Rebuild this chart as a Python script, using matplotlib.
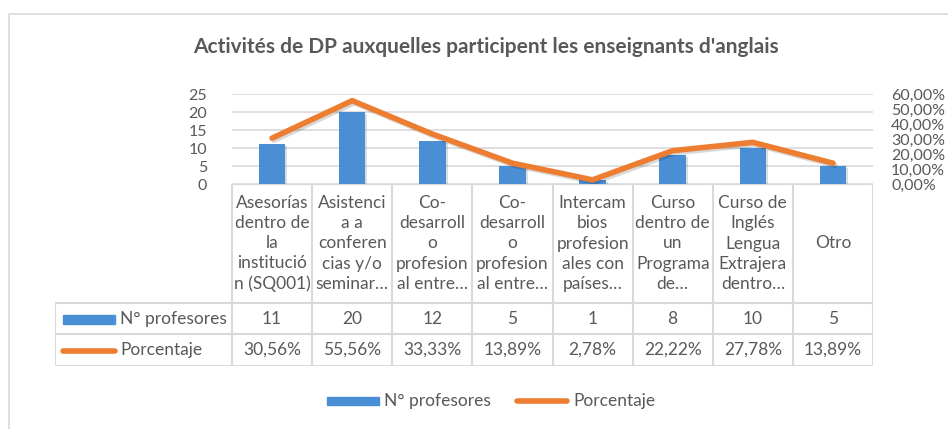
import numpy as np
import matplotlib as mpl
mpl.use('Agg')
import matplotlib.pyplot as plt
from matplotlib.patches import Rectangle
from matplotlib.lines import Line2D
import matplotlib.patheffects as pe

title = "Activités de DP auxquelles participent les enseignants d'anglais"
categories = [
    "Asesorías\ndentro de\nla\ninstitució\nn (SQ001)",
    "Asistenci\na a\nconferen\ncias y/o\nseminar…",
    "Co-\ndesarroll\no\nprofesion\nal entre…",
    "Co-\ndesarroll\no\nprofesion\nal entre…",
    "Intercam\nbios\nprofesion\nales con\npaíses…",
    "Curso\ndentro de\nun\nPrograma\nde…",
    "Curso de\nInglés\nLengua\nExtrajera\ndentro…",
    "Otro",
]
profesores = [11, 20, 12, 5, 1, 8, 10, 5]
porcentaje = [30.56, 55.56, 33.33, 13.89, 2.78, 22.22, 27.78, 13.89]
left_ticks = [0, 5, 10, 15, 20, 25]
right_ticks = [0, 10, 20, 30, 40, 50, 60]

W, H = 948, 429
BLUE = '#4a8fd6'
ORANGE = '#ed7d31'
GRID = '#d9d9d9'
TXT = '#595959'
FS = 12.5
plt.rcParams['font.family'] = ['Lato', 'DejaVu Sans']

fig = plt.figure(figsize=(W / 100, H / 100), dpi=100)

def fx(x):
    return x / W

def fy(y):
    return 1 - y / H

# chart frame
fig.patches.append(Rectangle((fx(9), fy(435)), fx(960) - fx(9), fy(14) - fy(435),
                             transform=fig.transFigure, fill=False,
                             edgecolor=GRID, lw=1.2))

fig.text(fx(486), fy(47), title, ha='center', va='center', fontsize=15,
         fontweight='bold', color=TXT)

# main plot area
ax = fig.add_axes([fx(232), fy(184), fx(873) - fx(232), fy(94) - fy(184)])
n = len(categories)
x = np.arange(n)
ax.bar(x, profesores, width=0.33, color=BLUE, zorder=3,
       path_effects=[pe.SimplePatchShadow(offset=(1.5, -1.5), alpha=0.15), pe.Normal()])
ax.set_xlim(-0.5, n - 0.5)
ax.set_ylim(0, 25)
ax.set_yticks(left_ticks)
ax.set_yticklabels([str(t) for t in left_ticks], fontsize=11.5, color=TXT)
ax.tick_params(axis='y', length=0, pad=18)
ax.set_xticks([])
ax.grid(axis='y', color=GRID, lw=1.2, zorder=0)
for s in ax.spines.values():
    s.set_visible(False)

ax2 = ax.twinx()
ax2.plot(x, porcentaje, color=ORANGE, lw=4, solid_capstyle='round', zorder=4,
         path_effects=[pe.SimpleLineShadow(offset=(1.5, -1.5), alpha=0.15), pe.Normal()])
ax2.set_ylim(0, 60)
ax2.set_yticks(right_ticks)
ax2.set_yticklabels(['%d,00%%' % t for t in right_ticks], fontsize=11.5, color=TXT)
ax2.tick_params(axis='y', length=0, pad=13)
ax2.set_xlim(-0.5, n - 0.5)
for s in ax2.spines.values():
    s.set_visible(False)

# data table below the plot
col_w = (873 - 232) / n
tax = fig.add_axes([fx(55), fy(366), fx(873) - fx(55), fy(184) - fy(366)])
left_edge = -0.5 - (232 - 55) / col_w
tax.set_xlim(left_edge, n - 0.5)
tax.set_ylim(366, 184)
tax.axis('off')

lc = dict(color=GRID, lw=1.5, solid_capstyle='butt')
for i in range(n + 1):
    tax.plot([i - 0.5, i - 0.5], [184, 366], **lc)
tax.plot([left_edge, left_edge], [303, 366], **lc)
tax.plot([-0.5, n - 0.5], [184, 184], **lc)
for yy in (303, 334, 366):
    tax.plot([left_edge, n - 0.5], [yy, yy], **lc)

for i in range(n):
    tax.text(i, 243.5, categories[i], ha='center', va='center', fontsize=FS,
             color=TXT, linespacing=1.32)
    tax.text(i, 319, str(profesores[i]), ha='center', va='center', fontsize=FS, color=TXT)
    tax.text(i, 350, ('%.2f%%' % porcentaje[i]).replace('.', ','), ha='center',
             va='center', fontsize=FS, color=TXT)

# legend keys in the table
key_w = 52 / col_w
kx = left_edge + 8 / col_w
tax.add_patch(Rectangle((kx, 315), key_w, 9, color=BLUE))
tax.plot([kx, kx + key_w], [351, 351], color=ORANGE, lw=4, solid_capstyle='round')
tax.text(kx + key_w + 5 / col_w, 319, 'N° profesores', ha='left', va='center',
         fontsize=FS, color=TXT)
tax.text(kx + key_w + 5 / col_w, 350, 'Porcentaje', ha='left', va='center',
         fontsize=FS, color=TXT)

# bottom legend
fig.patches.append(Rectangle((fx(327), fy(405)), fx(379) - fx(327), fy(397) - fy(405),
                             transform=fig.transFigure, color=BLUE))
fig.text(fx(384), fy(401), 'N° profesores', ha='left', va='center', fontsize=FS, color=TXT)
fig.lines.append(Line2D([fx(517), fx(567)], [fy(401), fy(401)], transform=fig.transFigure,
                        color=ORANGE, lw=4, solid_capstyle='round'))
fig.text(fx(573), fy(401), 'Porcentaje', ha='left', va='center', fontsize=FS, color=TXT)

fig.savefig('out.png', dpi=100)
